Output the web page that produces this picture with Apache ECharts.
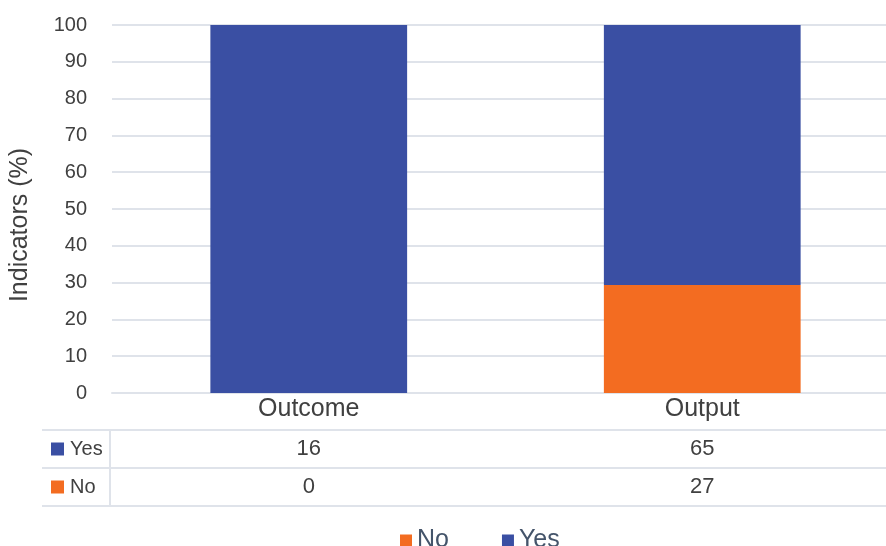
<!DOCTYPE html>
<html>
<head>
<meta charset="utf-8">
<script src="https://cdn.jsdelivr.net/npm/echarts@6/dist/echarts.min.js"></script>
<style>
  html, body { margin: 0; padding: 0; background: #fff; overflow: hidden; }
  /* plot runs a little past the right edge of the picture */
  #chart { width: 899px; height: 546px; }
</style>
</head>
<body>
<div id="chart"></div>
<script>
const categories = ['Outcome', 'Output']
const yesCounts = [16, 65]
const noCounts = [0, 27]
const yTicks = [0, 10, 20, 30, 40, 50, 60, 70, 80, 90, 100]

const BLUE = '#3a4fa3'
const ORANGE = '#f36c21'
const GRID = '#dfe3ea'
const TEXT = '#404040'
const FONT = 'Liberation Sans'

// share of each answer, in percent of the category total
const noPct = noCounts.map((n, i) => n / (n + yesCounts[i]) * 100)
const yesPct = yesCounts.map((n, i) => n / (n + noCounts[i]) * 100)

let chart = echarts.init(document.getElementById('chart'))

chart.setOption({
    animation: false,
    textStyle: { fontFamily: FONT },
    grid: { left: 111, right: 0, top: 25, bottom: 153, containLabel: false },
    legend: {
        data: ['No', 'Yes'],
        top: 528,
        left: 400,
        padding: 0,
        itemWidth: 12,
        itemHeight: 12,
        itemGap: 53,
        icon: 'rect',
        textStyle: { fontSize: 25, color: '#44546a', fontFamily: FONT }
    },
    xAxis: {
        type: 'category',
        data: categories,
        axisTick: { show: false },
        axisLine: { lineStyle: { color: GRID, width: 2 } },
        axisLabel: { fontSize: 25, color: TEXT, margin: 4 }
    },
    yAxis: {
        type: 'value',
        min: 0,
        max: 100,
        interval: 10,
        name: 'Indicators (%)',
        nameLocation: 'middle',
        nameGap: 79,
        nameTextStyle: { fontSize: 25, color: TEXT, padding: [0, 32, 0, 0] },
        axisLine: { show: false },
        axisTick: { show: false },
        axisLabel: {
            fontSize: 20, color: TEXT, margin: 25,
            formatter: v => yTicks.includes(v) ? String(v) : ''
        },
        splitLine: { lineStyle: { color: GRID, width: 2 } }
    },
    series: [
        {
            name: 'No', type: 'bar', stack: 'all', barWidth: '50%',
            itemStyle: { color: ORANGE }, data: noPct
        },
        {
            name: 'Yes', type: 'bar', stack: 'all', barWidth: '50%',
            itemStyle: { color: BLUE }, data: yesPct
        }
    ]
})

// data table under the axis
const rows = [
    { name: 'Yes', color: BLUE, values: yesCounts },
    { name: 'No', color: ORANGE, values: noCounts }
]
const rowTop = 430
const rowH = 38
const tableLeft = 42
const sepX = 110
let g = []
for (let r = 0; r <= rows.length; r++) {
    let y = rowTop + r * rowH
    g.push({ type: 'line', shape: { x1: tableLeft, y1: y, x2: 899, y2: y },
        style: { stroke: GRID, lineWidth: 2 } })
}
g.push({ type: 'line', shape: { x1: sepX, y1: rowTop, x2: sepX, y2: rowTop + rows.length * rowH },
    style: { stroke: GRID, lineWidth: 2 } })
rows.forEach((row, r) => {
    let cy = rowTop + r * rowH + rowH / 2
    g.push({ type: 'rect', shape: { x: 51, y: cy - 6.5, width: 13, height: 13 },
        style: { fill: row.color } })
    g.push({ type: 'text', x: 70, y: cy,
        style: { text: row.name, font: '20px ' + FONT, fill: TEXT, textVerticalAlign: 'middle' } })
    row.values.forEach((v, i) => {
        let x = chart.convertToPixel({ xAxisIndex: 0 }, categories[i])
        g.push({ type: 'text', x: x, y: cy,
            style: { text: String(v), font: '22px ' + FONT, fill: TEXT,
                textAlign: 'center', textVerticalAlign: 'middle' } })
    })
})
chart.setOption({ graphic: g })
</script>
</body>
</html>
